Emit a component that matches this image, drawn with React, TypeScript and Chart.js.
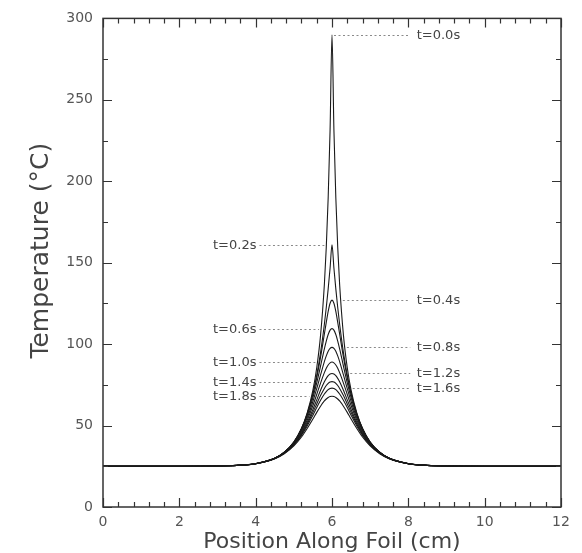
import { useEffect, useRef } from 'react';
import { Chart, registerables } from 'chart.js';

Chart.register(...registerables);

// ---- data ----
const positions = [0, 2, 3, 3.5, 4, 4.5, 4.75, 5, 5.2, 5.35, 5.5, 5.6, 5.7, 5.8, 5.85, 5.9, 5.95, 6, 6.05, 6.1, 6.15, 6.2, 6.3, 6.4, 6.5, 6.65, 6.8, 7, 7.25, 7.5, 8, 8.5, 9, 10, 12];

const temp00 = [25, 25, 25.2, 25.5, 26.6, 29.9, 33.5, 39.7, 48.2, 57.7, 71.7, 85.5, 105.4, 136.6, 159.5, 190, 231.7, 290, 231.7, 190, 159.5, 136.6, 105.4, 85.5, 71.7, 57.7, 48.2, 39.7, 33.5, 29.9, 26.6, 25.5, 25.2, 25, 25];
const temp02 = [25, 25, 25.2, 25.5, 26.6, 29.9, 33.5, 39.7, 48, 57.1, 69.7, 80.9, 94.8, 112.2, 122.5, 133.9, 146.7, 161, 146.7, 133.9, 122.5, 112.2, 94.8, 80.9, 69.7, 57.1, 48, 39.7, 33.5, 29.9, 26.6, 25.5, 25.2, 25, 25];
const temp04 = [25, 25, 25.2, 25.5, 26.6, 29.9, 33.6, 39.9, 48, 56.9, 69.1, 79.5, 92, 106.2, 113.4, 120.1, 125.1, 127, 125.1, 120.1, 113.4, 106.2, 92, 79.5, 69.1, 56.9, 48, 39.9, 33.6, 29.9, 26.6, 25.5, 25.2, 25, 25];
const temp06 = [25, 25, 25.2, 25.5, 26.6, 30, 33.6, 39.7, 47.6, 56, 67.2, 76.2, 86.5, 97.1, 101.9, 105.9, 108.6, 109.5, 108.6, 105.9, 101.9, 97.1, 86.5, 76.2, 67.2, 56, 47.6, 39.7, 33.6, 30, 26.6, 25.5, 25.2, 25, 25];
const temp08 = [25, 25, 25.2, 25.5, 26.7, 29.9, 33.5, 39.4, 46.9, 54.7, 64.8, 72.7, 81.1, 89.3, 92.8, 95.6, 97.4, 98, 97.4, 95.6, 92.8, 89.3, 81.1, 72.7, 64.8, 54.7, 46.9, 39.4, 33.5, 29.9, 26.7, 25.5, 25.2, 25, 25];
const temp10 = [25, 25, 25.2, 25.6, 26.7, 29.9, 33.3, 39.1, 46.1, 53.3, 62.3, 69.1, 76.1, 82.5, 85.2, 87.2, 88.5, 89, 88.5, 87.2, 85.2, 82.5, 76.1, 69.1, 62.3, 53.3, 46.1, 39.1, 33.3, 29.9, 26.7, 25.6, 25.2, 25, 25];
const temp12 = [25, 25, 25.2, 25.6, 26.6, 29.8, 33.2, 38.7, 45.3, 51.9, 59.9, 65.8, 71.7, 76.9, 79, 80.6, 81.7, 82, 81.7, 80.6, 79, 76.9, 71.7, 65.8, 59.9, 51.9, 45.3, 38.7, 33.2, 29.8, 26.6, 25.6, 25.2, 25, 25];
const temp14 = [25, 25, 25.2, 25.6, 26.6, 29.8, 33.1, 38.4, 44.6, 50.8, 58.1, 63.3, 68.4, 72.8, 74.6, 75.9, 76.7, 77, 76.7, 75.9, 74.6, 72.8, 68.4, 63.3, 58.1, 50.8, 44.6, 38.4, 33.1, 29.8, 26.6, 25.6, 25.2, 25, 25];
const temp16 = [25, 25, 25.2, 25.6, 26.6, 29.7, 32.9, 38, 44, 49.7, 56.4, 61.1, 65.6, 69.4, 70.9, 72.1, 72.8, 73, 72.8, 72.1, 70.9, 69.4, 65.6, 61.1, 56.4, 49.7, 44, 38, 32.9, 29.7, 26.6, 25.6, 25.2, 25, 25];
const temp18 = [25, 25, 25.2, 25.6, 26.6, 29.6, 32.7, 37.5, 43, 48.2, 54, 58.1, 61.9, 65.1, 66.3, 67.2, 67.8, 68, 67.8, 67.2, 66.3, 65.1, 61.9, 58.1, 54, 48.2, 43, 37.5, 32.7, 29.6, 26.6, 25.6, 25.2, 25, 25];

const seriesLabels = ['t=0.0s', 't=0.2s', 't=0.4s', 't=0.6s', 't=0.8s', 't=1.0s', 't=1.2s', 't=1.4s', 't=1.6s', 't=1.8s'];
const labelSides = ['right', 'left', 'right', 'left', 'right', 'left', 'right', 'left', 'right', 'left'];
const allSeries = [temp00, temp02, temp04, temp06, temp08, temp10, temp12, temp14, temp16, temp18];

const xTickValues = [0, 2, 4, 6, 8, 10, 12];
const yTickValues = [0, 50, 100, 150, 200, 250, 300];
const xTitle = 'Position Along Foil (cm)';
const yTitle = 'Temperature (°C)';

const FONT = "'DejaVu Sans', sans-serif";

// envelope of all curves at each sample
function envelopeAt(i: number) {
  let m = -Infinity;
  for (const s of allSeries) m = Math.max(m, s[i]);
  return m;
}

function crossing(v: number, side: string) {
  const n = positions.length;
  if (side === 'left') {
    for (let i = 1; i < n; i++) {
      const e1 = envelopeAt(i);
      if (e1 >= v) {
        const e0 = envelopeAt(i - 1);
        return positions[i - 1] + ((v - e0) / (e1 - e0)) * (positions[i] - positions[i - 1]);
      }
    }
  } else {
    for (let i = n - 2; i >= 0; i--) {
      const e1 = envelopeAt(i);
      if (e1 >= v) {
        const e0 = envelopeAt(i + 1);
        return positions[i + 1] - ((v - e0) / (e1 - e0)) * (positions[i + 1] - positions[i]);
      }
    }
  }
  return 6;
}

const annotationPlugin = {
  id: 'peakLabels',
  afterDatasetsDraw(chart: any) {
    const { ctx, scales } = chart;
    const xs = scales.x;
    const ys = scales.y;
    ctx.save();
    ctx.font = `13px ${FONT}`;
    ctx.textBaseline = 'middle';
    allSeries.forEach((s, k) => {
      const peak = Math.max(...s);
      const py = Math.round(ys.getPixelForValue(peak)) + 0.5;
      const side = labelSides[k];
      const cx = xs.getPixelForValue(crossing(peak, side));
      ctx.strokeStyle = '#8a8a8a';
      ctx.lineWidth = 1;
      ctx.setLineDash([2, 2.5]);
      ctx.beginPath();
      if (side === 'left') {
        ctx.moveTo(xs.getPixelForValue(4.1), py);
        ctx.lineTo(cx - 2, py);
      } else {
        ctx.moveTo(cx + 2, py);
        ctx.lineTo(xs.getPixelForValue(8.05), py);
      }
      ctx.stroke();
      ctx.setLineDash([]);
      ctx.fillStyle = '#444';
      if (side === 'left') {
        ctx.textAlign = 'right';
        ctx.fillText(seriesLabels[k], xs.getPixelForValue(4.02), py);
      } else {
        ctx.textAlign = 'left';
        ctx.fillText(seriesLabels[k], xs.getPixelForValue(8.22), py);
      }
    });
    ctx.restore();
  },
};

const framePlugin = {
  id: 'frameTicks',
  afterDraw(chart: any) {
    const { ctx, chartArea: a, scales } = chart;
    const xs = scales.x;
    const ys = scales.y;
    ctx.save();
    ctx.strokeStyle = '#333';
    ctx.lineWidth = 1.5;
    ctx.strokeRect(a.left, a.top, a.right - a.left, a.bottom - a.top);
    ctx.lineWidth = 1.2;
    ctx.beginPath();
    for (let k = 0; k <= 30; k++) {
      const v = k * 0.4;
      const major = k % 5 === 0;
      const len = major ? 9 : 5;
      const px = Math.round(xs.getPixelForValue(v)) + 0.5;
      ctx.moveTo(px, a.bottom);
      ctx.lineTo(px, a.bottom - len);
      ctx.moveTo(px, a.top);
      ctx.lineTo(px, a.top + len);
    }
    for (let k = 0; k <= 12; k++) {
      const v = k * 25;
      const major = k % 2 === 0;
      const len = major ? 9 : 5;
      const py = Math.round(ys.getPixelForValue(v)) + 0.5;
      ctx.moveTo(a.left, py);
      ctx.lineTo(a.left + len, py);
      ctx.moveTo(a.right, py);
      ctx.lineTo(a.right - len, py);
    }
    ctx.stroke();

    // axis titles
    ctx.fillStyle = '#444';
    ctx.textBaseline = 'alphabetic';
    ctx.textAlign = 'center';
    ctx.font = `22px ${FONT}`;
    ctx.fillText(xTitle, (a.left + a.right) / 2, chart.height - 5);
    ctx.translate(48, (a.top + a.bottom) / 2 - 12);
    ctx.rotate(-Math.PI / 2);
    ctx.font = `25px ${FONT}`;
    ctx.fillText(yTitle, 0, 0);
    ctx.restore();
  },
};

export default function App() {
  const ref = useRef<HTMLCanvasElement>(null);
  useEffect(() => {
    const canvas = ref.current;
    if (!canvas) return;
    const datasets = allSeries.map((s, k) => ({
      label: seriesLabels[k],
      data: positions.map((x, i) => ({ x, y: s[i] })),
      borderColor: '#1a1a1a',
      borderWidth: 1.1,
      pointRadius: 0,
      fill: false,
      cubicInterpolationMode: 'monotone' as const,
    }));
    const chart = new Chart(canvas, {
      type: 'line',
      data: { datasets },
      options: {
        animation: false,
        responsive: false,
        devicePixelRatio: 1,
        parsing: false as any,
        layout: { padding: { left: 0, right: 21, top: 17, bottom: 0 } },
        plugins: { legend: { display: false }, tooltip: { enabled: false } },
        scales: {
          x: {
            type: 'linear',
            min: 0,
            max: 12,
            grid: { display: false, drawTicks: false, tickLength: 0 },
            border: { display: false },
            ticks: { font: { family: FONT, size: 14 }, color: '#555', padding: 7, maxRotation: 0, autoSkip: false },
            afterBuildTicks: (s: any) => { s.ticks = xTickValues.map((v) => ({ value: v })); },
            afterFit: (s: any) => { s.height = 46; },
          },
          y: {
            type: 'linear',
            min: 0,
            max: 300,
            grid: { display: false, drawTicks: false, tickLength: 0 },
            border: { display: false },
            ticks: { font: { family: FONT, size: 14 }, color: '#555', padding: 10, autoSkip: false },
            afterBuildTicks: (s: any) => { s.ticks = yTickValues.map((v) => ({ value: v })); },
            afterFit: (s: any) => { s.width = 103; },
          },
        },
      },
      plugins: [annotationPlugin, framePlugin],
    });
    return () => chart.destroy();
  }, []);
  return (
    <div style={{ position: 'fixed', left: 0, top: 0, width: 582, height: 553, background: '#fff' }}>
      <canvas ref={ref} width={582} height={553} style={{ display: 'block' }} />
    </div>
  );
}
